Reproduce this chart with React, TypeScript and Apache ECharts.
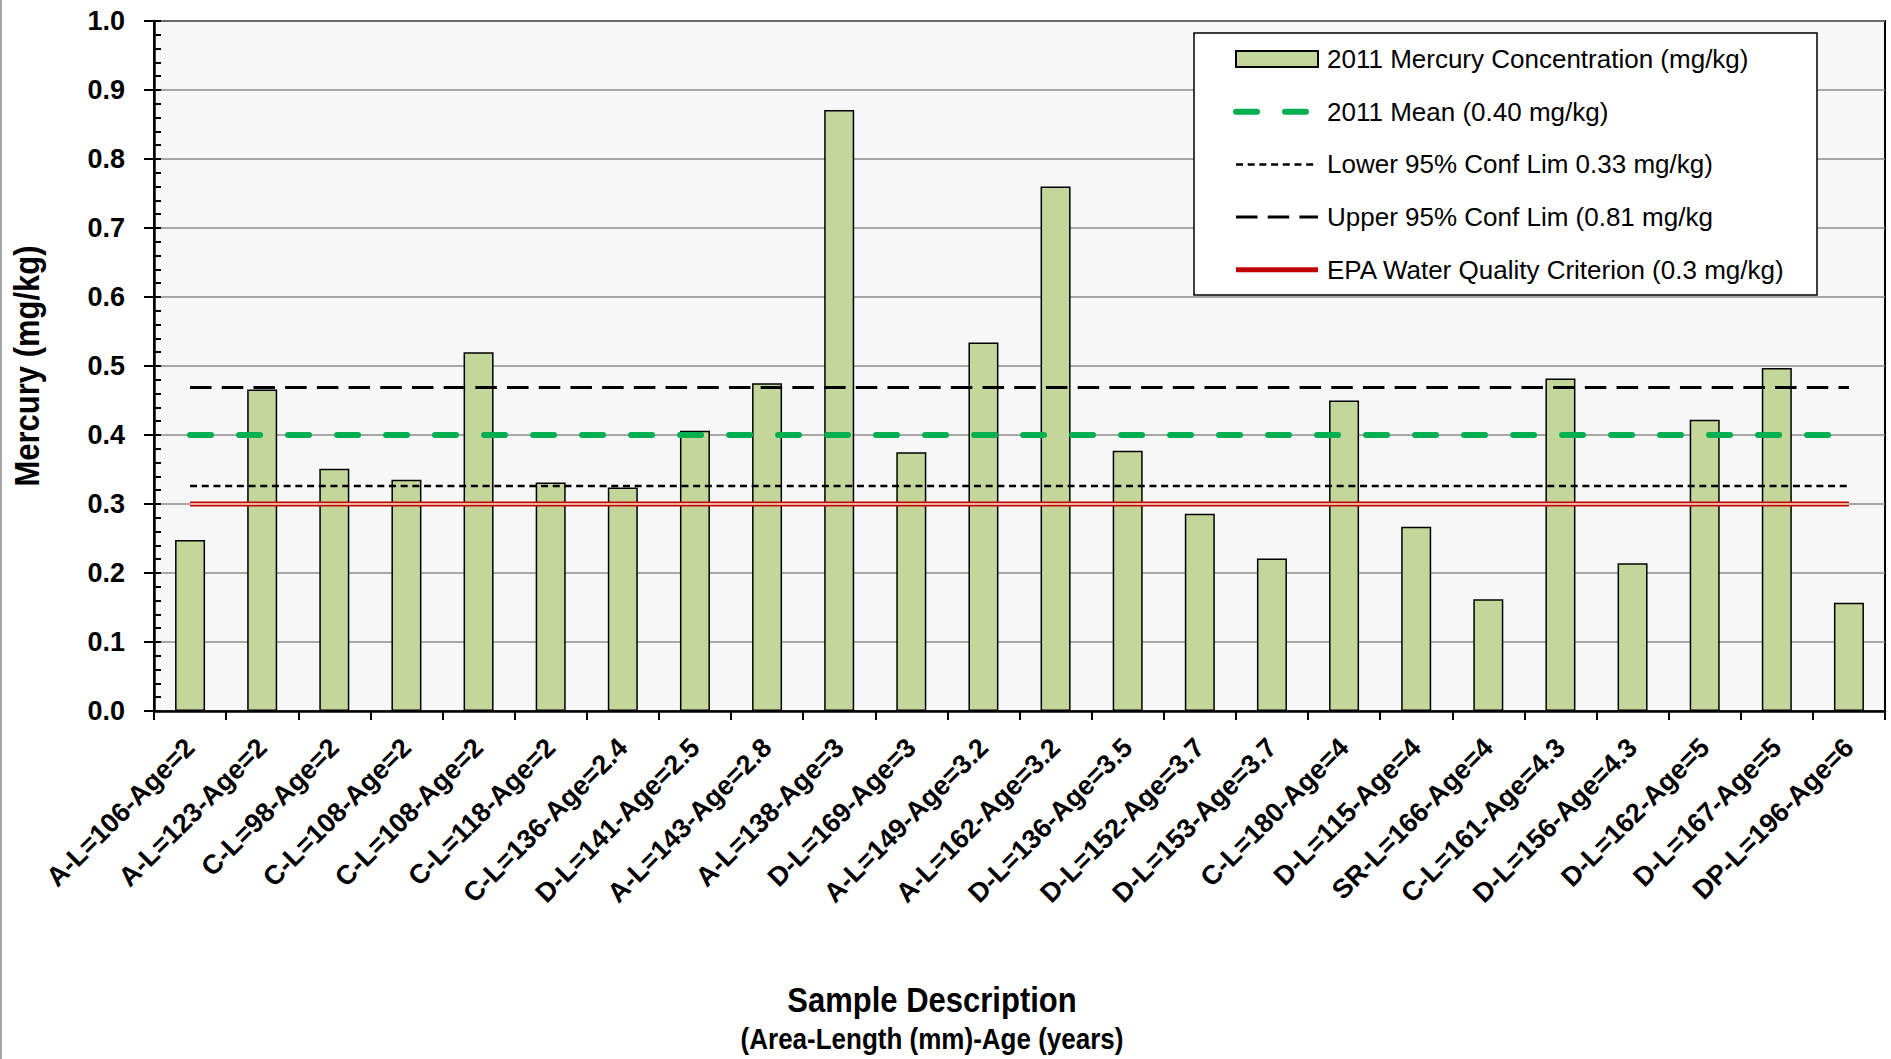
import React, { useEffect, useRef } from "react";
import * as echarts from "echarts";

const categories = [
  "A-L=106-Age=2", "A-L=123-Age=2", "C-L=98-Age=2", "C-L=108-Age=2", "C-L=108-Age=2",
  "C-L=118-Age=2", "C-L=136-Age=2.4", "D-L=141-Age=2.5", "A-L=143-Age=2.8", "A-L=138-Age=3",
  "D-L=169-Age=3", "A-L=149-Age=3.2", "A-L=162-Age=3.2", "D-L=136-Age=3.5", "D-L=152-Age=3.7",
  "D-L=153-Age=3.7", "C-L=180-Age=4", "D-L=115-Age=4", "SR-L=166-Age=4", "C-L=161-Age=4.3",
  "D-L=156-Age=4.3", "D-L=162-Age=5", "D-L=167-Age=5", "DP-L=196-Age=6",
];

const mercury = [
  0.248, 0.466, 0.351, 0.335, 0.520, 0.331, 0.324, 0.406, 0.475, 0.871,
  0.375, 0.534, 0.760, 0.377, 0.286, 0.221, 0.450, 0.267, 0.162, 0.482,
  0.214, 0.422, 0.497, 0.157,
];

const meanValue = 0.40;
const lowerConf = 0.326;
const upperConf = 0.469;
const epaCriterion = 0.30;

const yMin = 0;
const yMax = 1.0;
const yInterval = 0.1;

const seriesNames = [
  "2011 Mercury Concentration (mg/kg)",
  "2011 Mean (0.40 mg/kg)",
  "Lower 95% Conf Lim 0.33 mg/kg)",
  "Upper 95% Conf Lim (0.81 mg/kg",
  "EPA Water Quality Criterion (0.3 mg/kg)",
];

const xTitle = "Sample Description";
const xSubtitle = "(Area-Length (mm)-Age (years)";
const yTitle = "Mercury (mg/kg)";

const FONT = "'Liberation Sans', Arial, sans-serif";

export default function App() {
  const ref = useRef<HTMLDivElement>(null);

  useEffect(() => {
    const chart = echarts.init(ref.current!, null, { renderer: "svg" });
    const flat = (v: number) => categories.map(() => v);
    const hiddenSymbol = { opacity: 0 };

    const option: any = {
      animation: false,
      backgroundColor: "#ffffff",
      grid: {
        left: 154,
        right: 6,
        top: 21,
        bottom: 348,
        show: true,
        backgroundColor: "#f7f7f7",
        borderColor: "#000000",
        borderWidth: 2,
      },
      legend: {
        orient: "vertical",
        left: 1233,
        top: 44,
        padding: 0,
        itemWidth: 82,
        itemHeight: 16,
        itemGap: 22.7,
        data: [
          { name: seriesNames[0], icon: "rect" },
          { name: seriesNames[1], itemStyle: hiddenSymbol },
          { name: seriesNames[2], itemStyle: hiddenSymbol },
          { name: seriesNames[3], itemStyle: hiddenSymbol },
          { name: seriesNames[4], itemStyle: hiddenSymbol },
        ],
        lineStyle: { width: "inherit" },
        textStyle: {
          fontFamily: FONT,
          fontSize: 26,
          lineHeight: 30,
          color: "#000",
          padding: [0, 0, 0, 4],
        },
        z: 5,
      },
      xAxis: {
        type: "category",
        data: categories,
        axisLine: { lineStyle: { color: "#000", width: 2.5 } },
        axisTick: { show: true, length: 9, lineStyle: { color: "#000", width: 2 } },
        axisLabel: {
          interval: 0,
          rotate: 45,
          margin: 32,
          fontFamily: FONT,
          fontWeight: "bold",
          fontSize: 27,
          color: "#000",
        },
        splitLine: { show: false },
      },
      yAxis: [
        {
          type: "value",
          min: yMin,
          max: yMax,
          interval: yInterval,
          axisLine: { show: true, lineStyle: { color: "#000", width: 2.5 } },
          axisTick: { show: true, length: 10, lineStyle: { color: "#000", width: 2 } },
          axisLabel: {
            margin: 29,
            formatter: (v: number) => v.toFixed(1),
            fontFamily: FONT,
            fontWeight: "bold",
            fontSize: 27,
            color: "#000",
          },
          splitLine: { show: true, lineStyle: { color: "#8c8c8c", width: 1.5 } },
        },
        {
          type: "value",
          position: "left",
          min: yMin,
          max: yMax,
          interval: yInterval,
          axisLine: { show: false },
          axisLabel: { show: false },
          axisTick: { show: true, inside: true, length: 7, lineStyle: { color: "#000", width: 2 } },
          minorTick: { show: true, splitNumber: 5, length: 7, lineStyle: { color: "#000", width: 2 } },
          splitLine: { show: false },
        },
      ],
      series: [
        {
          name: seriesNames[0],
          type: "bar",
          data: mercury,
          barWidth: 30,
          itemStyle: { color: "#c4d79b", borderColor: "#000", borderWidth: 1.5 },
          z: 2,
        },
        {
          name: seriesNames[4],
          type: "line",
          data: flat(epaCriterion),
          symbol: "none",
          lineStyle: { color: "#c00000", width: 5 },
          itemStyle: { color: "#c00000" },
          z: 3,
        },
        {
          name: "epa-inner",
          type: "line",
          data: flat(epaCriterion),
          symbol: "none",
          lineStyle: { color: "#f7efd6", width: 1.4 },
          itemStyle: { color: "#f7efd6" },
          z: 3,
        },
        {
          name: seriesNames[2],
          type: "line",
          data: flat(lowerConf),
          symbol: "none",
          lineStyle: { color: "#000", width: 2.5, type: [7, 4.7] },
          itemStyle: { color: "#000" },
          z: 3,
        },
        {
          name: seriesNames[3],
          type: "line",
          data: flat(upperConf),
          symbol: "none",
          lineStyle: { color: "#000", width: 3, type: [21.5, 10.2] },
          itemStyle: { color: "#000" },
          z: 3,
        },
        {
          name: seriesNames[1],
          type: "line",
          data: flat(meanValue),
          symbol: "none",
          lineStyle: { color: "#00b050", width: 6, type: [21, 28], cap: "round" },
          itemStyle: { color: "#00b050" },
          z: 3,
        },
      ],
      graphic: [
        {
          type: "rect",
          z: 4,
          shape: { x: 1194, y: 33, width: 623, height: 262 },
          style: { fill: "#ffffff", stroke: "#000000", lineWidth: 1.5 },
        },
        {
          type: "line",
          z: 1,
          shape: { x1: 1, y1: 0, x2: 1, y2: 1059 },
          style: { stroke: "#a6a6a6", lineWidth: 2 },
        },
        {
          type: "text",
          x: 27,
          y: 366,
          rotation: Math.PI / 2,
          scaleY: 1.12,
          style: {
            text: yTitle,
            fontFamily: FONT,
            fontWeight: "bold",
            fontSize: 31,
            fill: "#000",
            align: "center",
            verticalAlign: "middle",
          },
        },
        {
          type: "text",
          x: 932,
          y: 1000,
          scaleY: 1.12,
          style: {
            text: xTitle,
            fontFamily: FONT,
            fontWeight: "bold",
            fontSize: 31,
            fill: "#000",
            align: "center",
            verticalAlign: "middle",
          },
        },
        {
          type: "text",
          x: 932,
          y: 1039,
          scaleY: 1.1,
          style: {
            text: xSubtitle,
            fontFamily: FONT,
            fontWeight: "bold",
            fontSize: 26,
            fill: "#000",
            align: "center",
            verticalAlign: "middle",
          },
        },
      ],
    };

    chart.setOption(option);
    return () => chart.dispose();
  }, []);

  return (
    <div
      ref={ref}
      style={{ position: "fixed", left: 0, top: 0, width: 1891, height: 1059, background: "#fff" }}
    />
  );
}
